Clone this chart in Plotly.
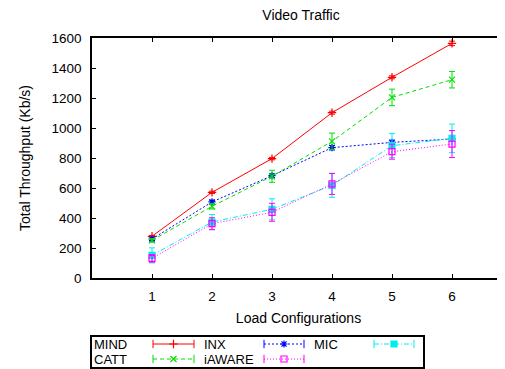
import plotly.graph_objects as go

loads = [1, 2, 3, 4, 5, 6]

mind = [278, 571, 796, 1102, 1338, 1564]
mind_err = [6, 8, 8, 10, 10, 15]
inx = [260, 507, 682, 869, 904, 927]
inx_err = [10, 12, 12, 15, 15, 15]
mic = [151, 373, 458, 618, 882, 931]
mic_err = [50, 50, 70, 80, 80, 95]
catt = [251, 478, 678, 911, 1204, 1322]
catt_err = [12, 18, 40, 55, 55, 55]
iaware = [131, 362, 438, 627, 842, 893]
iaware_err = [25, 40, 60, 70, 50, 90]

# name, values, errors, colour, dash, symbol, legend row, legend column
series = [
    ("MIND", mind, mind_err, "#ff0000", "solid", "cross-thin-open", 0, 0),
    ("INX", inx, inx_err, "#0000ff", "2px,2px", "asterisk-open", 0, 1),
    ("MIC", mic, mic_err, "#00eeee", "5px,2px,1px,2px", "square", 0, 2),
    ("CATT", catt, catt_err, "#00e000", "4px,3px", "x-thin-open", 1, 0),
    ("iAWARE", iaware, iaware_err, "#ff00ff", "1px,2px", "square-open", 1, 1),
]

# legend box geometry (legend axis units = page pixels of the reference)
leg_x_range = [92, 423]
leg_y_range = [367, 337]
leg_rows = [344, 359]
leg_label_x = [93, 203, 313]
leg_sample_x = [[153, 194], [264, 304], [374, 414]]

OFF = 8  # page body margin
W, H = 505 - OFF, 369 - OFF
ML, MR, MT = 92 - OFF, 0, 38 - OFF
MB = 2
plot_h = H - MT - MB
plot_w = W - ML - MR
main_bottom_px = 278 - OFF
y_dom0 = (H - MB - main_bottom_px) / plot_h
leg_dom_y = [0, (leg_y_range[0] - leg_y_range[1]) / plot_h]
leg_dom_x = [0, (leg_x_range[1] - leg_x_range[0]) / plot_w]

font = "Liberation Sans, Arial, Helvetica, sans-serif"
fig = go.Figure()
for name, vals, err, color, dash, sym, r, c in series:
    fig.add_trace(go.Scatter(
        x=loads, y=vals, name=name, mode="lines+markers", showlegend=False,
        line=dict(color=color, width=1, dash=dash),
        marker=dict(symbol=sym, size=6, color=color, line=dict(color=color, width=1.2)),
        error_y=dict(type="data", array=err, visible=True, color=color, thickness=1, width=3),
        xaxis="x", yaxis="y",
    ))

annotations = []
for name, vals, err, color, dash, sym, r, c in series:
    x0, x1 = leg_sample_x[c]
    yy = leg_rows[r]
    fig.add_trace(go.Scatter(
        x=[x0, x1], y=[yy, yy], mode="lines+markers", showlegend=False, hoverinfo="skip",
        line=dict(color=color, width=1, dash=dash),
        marker=dict(symbol="line-ns-open", size=6, color=color, line=dict(color=color, width=1)),
        xaxis="x2", yaxis="y2",
    ))
    fig.add_trace(go.Scatter(
        x=[(x0 + x1) / 2], y=[yy], mode="markers", showlegend=False, hoverinfo="skip",
        marker=dict(symbol=sym, size=6, color=color, line=dict(color=color, width=1.2)),
        xaxis="x2", yaxis="y2",
    ))
    annotations.append(dict(
        text=name, x=leg_label_x[c], y=yy, xref="x2", yref="y2", xanchor="left",
        yanchor="middle", showarrow=False, font=dict(size=13, family=font, color="black"),
        borderpad=0,
    ))

fig.update_layout(
    width=W, height=H,
    margin=dict(l=ML, r=MR, t=MT, b=MB, autoexpand=False),
    paper_bgcolor="white", plot_bgcolor="white",
    font=dict(family=font, size=13.5, color="black"),
    title=dict(text="Video Traffic", x=(301 - OFF) / W, xanchor="center",
               y=1 - (15 - OFF) / H, yanchor="middle",
               font=dict(size=14, family=font)),
    showlegend=False,
    annotations=annotations,
    xaxis=dict(
        domain=[0, 1], anchor="y", automargin=False,
        range=[0, plot_w / 60], tickvals=loads, ticks="inside", ticklen=4, tickcolor="black",
        tickwidth=1, showline=True, linecolor="black", linewidth=1.5, mirror="ticks",
        showgrid=False, zeroline=False, ticklabelstandoff=5, tickfont=dict(size=13.5),
        title=dict(text="Load Configurations", standoff=10, font=dict(size=14)),
    ),
    yaxis=dict(
        domain=[y_dom0, 1], anchor="x", automargin=False,
        range=[0, 1600], dtick=200, ticks="inside", ticklen=4, tickcolor="black",
        tickwidth=1, showline=True, linecolor="black", linewidth=1.5, mirror=False,
        showgrid=False, zeroline=False, ticklabelstandoff=6, tickfont=dict(size=13.5),
        title=dict(text="Total Throughput (Kb/s)", standoff=18, font=dict(size=14)),
    ),
    xaxis2=dict(
        domain=leg_dom_x, anchor="y2", range=leg_x_range, showline=True, linecolor="black",
        linewidth=1.5, mirror=True, showticklabels=False, ticks="", showgrid=False,
        zeroline=False, fixedrange=True, automargin=False,
    ),
    yaxis2=dict(
        domain=leg_dom_y, anchor="x2", range=leg_y_range, showline=True, linecolor="black",
        linewidth=1.5, mirror=True, showticklabels=False, ticks="", showgrid=False,
        zeroline=False, fixedrange=True, automargin=False,
    ),
)
fig.write_html("out.html")
